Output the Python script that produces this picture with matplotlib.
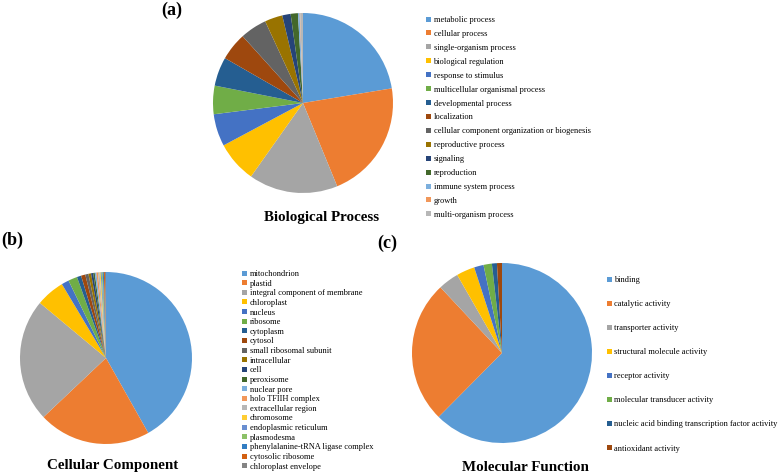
import matplotlib
matplotlib.use("Agg")
import matplotlib.pyplot as plt

plt.rcParams['font.family'] = ['Liberation Serif', 'DejaVu Serif']

W, H = 778, 473

bp_labels = ["metabolic process", "cellular process", "single-organism process",
             "biological regulation", "response to stimulus",
             "multicellular organismal process", "developmental process",
             "localization", "cellular component organization or biogenesis",
             "reproductive process", "signaling", "reproduction",
             "immune system process", "growth", "multi-organism process"]
bp_values = [22.4, 21.4, 16.0, 7.4, 5.8, 5.1, 5.2, 5.0, 4.8, 3.2, 1.5, 1.3, 0.3, 0.1, 0.5]

cc_labels = ["mitochondrion", "plastid", "integral component of membrane",
             "chloroplast", "nucleus", "ribosome", "cytoplasm", "cytosol",
             "small ribosomal subunit", "intracellular", "cell", "peroxisome",
             "nuclear pore", "holo TFIIH complex", "extracellular region",
             "chromosome", "endoplasmic reticulum", "plasmodesma",
             "phenylalanine-tRNA ligase complex", "cytosolic ribosome",
             "chloroplast envelope"]
cc_values = [42.0, 21.2, 23.2, 5.4, 1.4, 1.7, 0.8, 0.8, 0.6, 0.5, 0.4, 0.3,
             0.3, 0.3, 0.3, 0.2, 0.2, 0.2, 0.2, 0.2, 0.2]

mf_labels = ["binding", "catalytic activity", "transporter activity",
             "structural molecule activity", "receptor activity",
             "molecular transducer activity",
             "nucleic acid binding transcription factor activity",
             "antioxidant activity"]
mf_values = [62.5, 25.6, 3.7, 3.3, 1.7, 1.5, 0.9, 0.9]

palette = ["#5B9BD5", "#ED7D31", "#A5A5A5", "#FFC000", "#4472C4", "#70AD47",
           "#255E91", "#9E480E", "#636363", "#997300", "#264478", "#43682B",
           "#7CAFDD", "#F1975A", "#B7B7B7", "#FFCD33", "#698ED0", "#8CC168",
           "#327DC2", "#D26012", "#848484"]

fig = plt.figure(figsize=(W / 100, H / 100), dpi=100)


def pie_ax(cx, cy, r):
    return fig.add_axes([(cx - r) / W, 1 - (cy + r) / H, 2 * r / W, 2 * r / H])


def draw(cx, cy, r, values, labels, lx, ly, spacing):
    ax = pie_ax(cx, cy, r)
    wedges, _ = ax.pie(values, colors=palette[:len(values)], startangle=90,
                       counterclock=False, radius=1)
    ax.set_xlim(-1, 1)
    ax.set_ylim(-1, 1)
    ax.set_aspect('equal')
    ax.axis('off')
    fig.legend(wedges, labels, loc='upper left',
               bbox_to_anchor=(lx / W, 1 - ly / H), frameon=False,
               fontsize=6, handlelength=0.55, handleheight=0.55,
               handletextpad=0.35, labelspacing=spacing, borderpad=0,
               borderaxespad=0)
    return ax


draw(303, 103, 90, bp_values, bp_labels, 426, 16, 0.71)
draw(106, 358, 86, cc_values, cc_labels, 242, 270, 0.196)
draw(502, 353, 90, mf_values, mf_labels, 607, 276, 1.93)

fig.text(322 / W, 1 - 217 / H, "Biological Process", ha='center', va='center',
         fontsize=10.8, fontweight='bold')
fig.text(113 / W, 1 - 465 / H, "Cellular Component", ha='center', va='center',
         fontsize=10.8, fontweight='bold')
fig.text(525 / W, 1 - 467 / H, "Molecular Function", ha='center', va='center',
         fontsize=10.8, fontweight='bold')

fig.text(161 / W, 1 - 10 / H, "(a)", ha='left', va='center', fontsize=13, fontweight='bold')
fig.text(1 / W, 1 - 240 / H, "(b)", ha='left', va='center', fontsize=13, fontweight='bold')
fig.text(377 / W, 1 - 243 / H, "(c)", ha='left', va='center', fontsize=13, fontweight='bold')

fig.savefig("out.png", dpi=100)
